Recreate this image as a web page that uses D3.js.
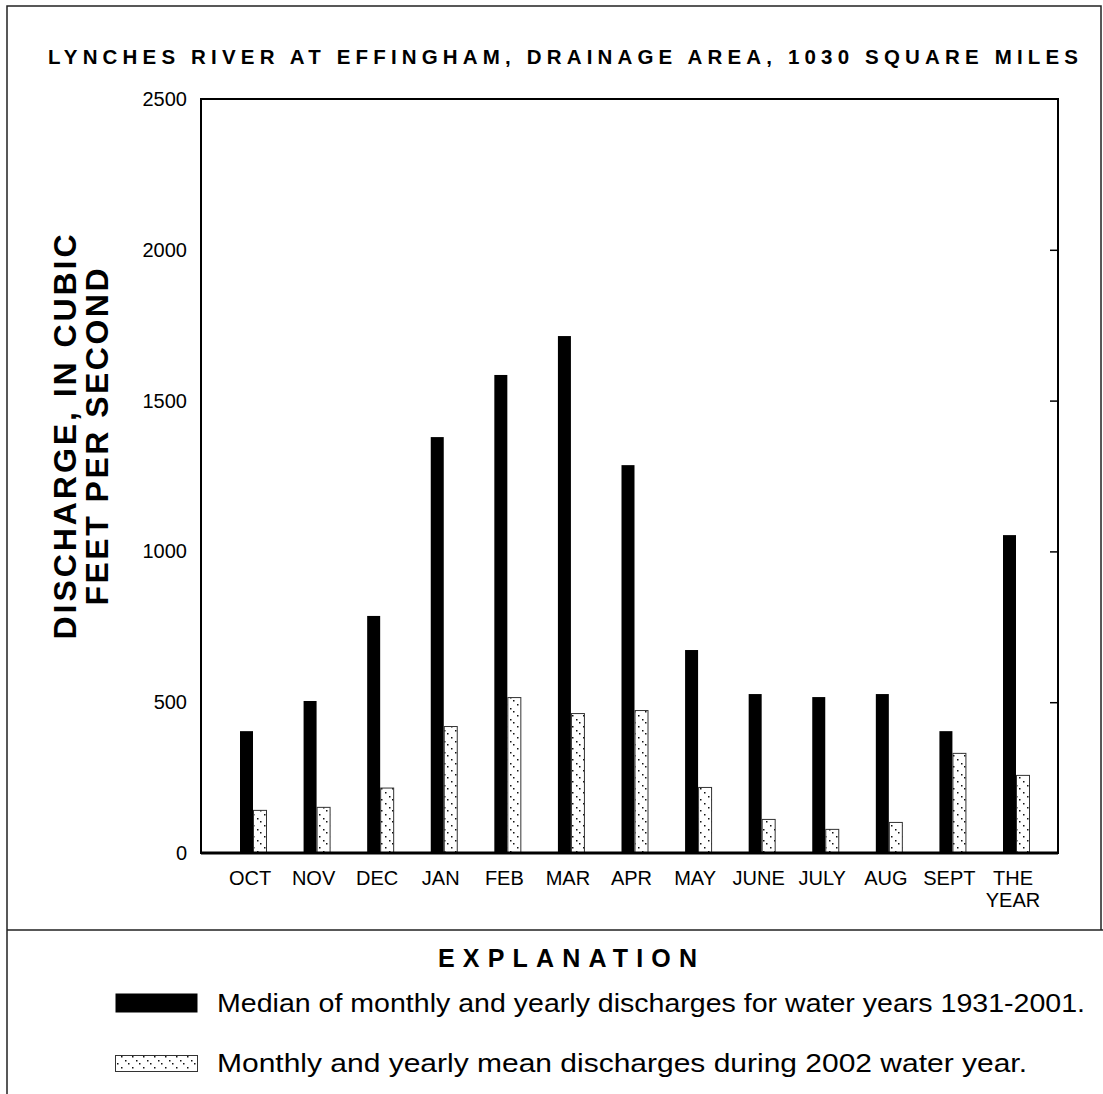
<!DOCTYPE html>
<html>
<head>
<meta charset="utf-8">
<script src="https://cdn.jsdelivr.net/npm/d3@7"></script>
<style>
  body { margin: 0; background: #fff; }
  svg { display: block; font-family: "Liberation Sans", Arial, Helvetica, sans-serif; }
</style>
</head>
<body>
<script>
// chart values
const months = ["OCT", "NOV", "DEC", "JAN", "FEB", "MAR", "APR", "MAY", "JUNE", "JULY", "AUG", "SEPT", "THE YEAR"];
const median = [404, 504, 786, 1379, 1585, 1714, 1286, 673, 527, 517, 527, 404, 1054];
const mean2002 = [143, 153, 217, 421, 517, 464, 474, 219, 113, 80, 103, 332, 259];
const yTicks = [0, 500, 1000, 1500, 2000, 2500];

const width = 1103, height = 1094;
const plot = {left: 201, right: 1058, top: 99, bottom: 853};
const barW = 13;

const svg = d3.select("body").append("svg")
    .attr("width", width)
    .attr("height", height);

// dotted diagonal fill for the 2002 bars
const defs = svg.append("defs");
const pat = defs.append("pattern")
    .attr("id", "dots")
    .attr("patternUnits", "userSpaceOnUse")
    .attr("width", 11)
    .attr("height", 11);
pat.append("rect").attr("width", 11).attr("height", 11).attr("fill", "#fff");
[[0, 0], [4, 4], [7, 7]].forEach(([x, y]) =>
  pat.append("rect").attr("x", x).attr("y", y).attr("width", 1.5).attr("height", 1.5).attr("fill", "#111"));

// outer frame
svg.append("path")
    .attr("d", `M7,${height} V6 H1101 V930 M7,930 H${width}`)
    .attr("fill", "none")
    .attr("stroke", "#222")
    .attr("stroke-width", 1.5);

svg.append("text")
    .attr("x", 48)
    .attr("y", 64)
    .attr("textLength", 1030)
    .attr("lengthAdjust", "spacing")
    .attr("font-size", 20.5)
    .attr("font-weight", "bold")
    .text("LYNCHES RIVER AT EFFINGHAM, DRAINAGE AREA, 1030 SQUARE MILES");

const x = d3.scalePoint()
    .domain(months)
    .range([plot.left + 52, plot.right - 42]);

const y = d3.scaleLinear()
    .domain([0, 2500])
    .range([plot.bottom, plot.top]);

// bars
svg.append("g").selectAll("rect")
  .data(months)
  .join("rect")
    .attr("x", d => x(d) - barW)
    .attr("y", (d, i) => y(median[i]))
    .attr("width", barW)
    .attr("height", (d, i) => y(0) - y(median[i]))
    .attr("fill", "#000");

svg.append("g").selectAll("rect")
  .data(months)
  .join("rect")
    .attr("x", d => x(d) + 0.5)
    .attr("y", (d, i) => y(mean2002[i]) + 0.5)
    .attr("width", barW)
    .attr("height", (d, i) => y(0) - y(mean2002[i]))
    .attr("fill", "url(#dots)")
    .attr("stroke", "#333")
    .attr("stroke-width", 1);

// plot frame
svg.append("rect")
    .attr("x", plot.left)
    .attr("y", plot.top)
    .attr("width", plot.right - plot.left)
    .attr("height", plot.bottom - plot.top)
    .attr("fill", "none")
    .attr("stroke", "#000")
    .attr("stroke-width", 2);
svg.append("line")
    .attr("x1", plot.left).attr("x2", plot.right)
    .attr("y1", plot.bottom).attr("y2", plot.bottom)
    .attr("stroke", "#000").attr("stroke-width", 3);

// y axis labels, ticks on the right side
const yAxis = svg.append("g")
    .attr("transform", `translate(${plot.left},0)`)
    .call(d3.axisLeft(y).tickValues(yTicks).tickSize(0).tickPadding(14).tickFormat(d3.format("d")));
yAxis.select(".domain").remove();
yAxis.selectAll("text").attr("font-size", 20).attr("font-family", null).attr("fill", "#000");

svg.append("g")
    .attr("transform", `translate(${plot.right},0)`)
    .call(d3.axisLeft(y).tickValues(yTicks.slice(1, -1)).tickSize(-8).tickFormat(""))
    .call(g => g.select(".domain").remove())
    .selectAll("line").attr("stroke", "#000").attr("stroke-width", 1.5)
    .attr("x2", -8);

// month labels
const xl = svg.append("g").attr("font-size", 20).attr("text-anchor", "middle");
months.forEach(m => {
  const t = xl.append("text").attr("x", x(m) - 3).attr("y", 885);
  m.split(" ").forEach((w, i) => t.append("tspan").attr("x", x(m) - 3).attr("dy", i ? 22 : 0).text(w));
});

// y title
const yt = svg.append("g")
    .attr("transform", "translate(0,437) rotate(-90)")
    .attr("font-weight", "bold")
    .attr("font-size", 32)
    .attr("text-anchor", "middle");
yt.append("text").attr("x", 0).attr("y", 76)
    .attr("textLength", 405).attr("lengthAdjust", "spacing")
    .text("DISCHARGE, IN CUBIC");
yt.append("text").attr("x", 0).attr("y", 108)
    .attr("textLength", 337).attr("lengthAdjust", "spacing")
    .text("FEET PER SECOND");

// explanation
svg.append("text")
    .attr("x", 438)
    .attr("y", 967)
    .attr("textLength", 259)
    .attr("lengthAdjust", "spacing")
    .attr("font-size", 25)
    .attr("font-weight", "bold")
    .text("EXPLANATION");

const legend = [
  {fill: "#000", stroke: "none", y: 993, h: 19, w: 868, label: "Median of monthly and yearly discharges for water years 1931-2001."},
  {fill: "url(#dots)", stroke: "#333", y: 1055, h: 16, w: 810, label: "Monthly and yearly mean discharges during 2002 water year."}
];
const lg = svg.append("g").selectAll("g").data(legend).join("g");
lg.append("rect")
    .attr("x", 115.5)
    .attr("y", d => d.y + 0.5)
    .attr("width", 82)
    .attr("height", d => d.h)
    .attr("fill", d => d.fill)
    .attr("stroke", d => d.stroke);
lg.append("text")
    .attr("x", 217)
    .attr("y", d => d.y + d.h / 2 + 9)
    .attr("font-size", 26)
    .attr("textLength", d => d.w)
    .attr("lengthAdjust", "spacingAndGlyphs")
    .text(d => d.label);
</script>
</body>
</html>
